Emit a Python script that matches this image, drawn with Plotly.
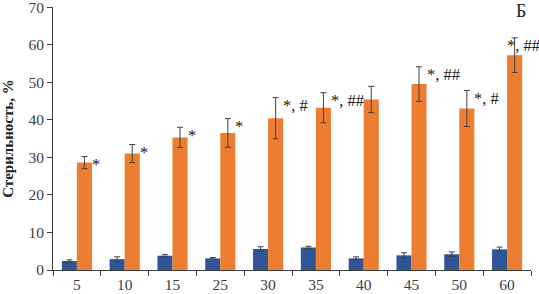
import plotly.graph_objects as go

categories = ["5", "10", "15", "25", "30", "35", "40", "45", "50", "60"]
control = [2.4, 2.9, 3.8, 3.1, 5.6, 6.0, 3.1, 3.9, 4.2, 5.5]
control_err = [0.3, 0.6, 0.3, 0.2, 0.6, 0.3, 0.4, 0.7, 0.6, 0.6]
treated = [28.6, 31.0, 35.3, 36.5, 40.4, 43.2, 45.4, 49.5, 43.0, 57.2]
treated_err = [1.6, 2.4, 2.7, 3.8, 5.5, 4.0, 3.5, 4.6, 4.8, 4.6]
labels = ["*", "*", "*", "*", "*, #", "*, ##", "", "*, ##", "*, #", "*, ##"]

BLUE = "#2F5597"
ORANGE = "#ED7D31"
FONT = "Liberation Serif"
AX = "#404040"

fig = go.Figure()
fig.add_trace(go.Bar(
    x=categories, y=control, marker_color=BLUE, marker_line_width=0,
    error_y=dict(type="data", array=control_err, color=AX, thickness=1, width=3),
))
fig.add_trace(go.Bar(
    x=categories, y=treated, marker_color=ORANGE, marker_line_width=0,
    error_y=dict(type="data", array=treated_err, color=AX, thickness=1, width=3),
))

for i, (v, e, lab) in enumerate(zip(treated, treated_err, labels)):
    if not lab:
        continue
    last = i == len(categories) - 1
    fig.add_annotation(
        x=i, y=v + e, xref="x", yref="y", text=lab, showarrow=False,
        xanchor="left", yanchor="middle",
        xshift=-2 if last else 13, yshift=-8,
        font=dict(family=FONT, size=16.5, color="#1a1a1a"),
    )

fig.add_annotation(
    x=0.98, y=0.985, xref="paper", yref="paper", text="Б", showarrow=False,
    xanchor="center", yanchor="middle", font=dict(family=FONT, size=18, color="#222"),
)

fig.update_layout(
    width=539, height=294,
    margin=dict(l=53, r=8, t=7, b=24),
    paper_bgcolor="white", plot_bgcolor="white",
    barmode="group", bargap=0.37, bargroupgap=0.0,
    showlegend=False,
    font=dict(family=FONT, size=15, color=AX),
)
fig.update_xaxes(
    type="category", range=[-0.5, 9.5], showline=True, linecolor=AX, linewidth=1,
    ticks="outside", tickson="boundaries", ticklen=5, tickcolor=AX, automargin=False,
    showgrid=False, tickfont=dict(family=FONT, size=15.5, color=AX),
)
fig.update_yaxes(
    range=[0, 70.02], tickvals=[0, 10, 20, 30, 40, 50, 60, 70], showline=True, linecolor=AX, linewidth=1,
    ticks="outside", ticklen=5, tickcolor=AX, showgrid=False, zeroline=False, automargin=False,
    ticklabeloverflow="allow",
    tickfont=dict(family=FONT, size=15.5, color=AX),
    title=dict(text="<b>Стерильность, %</b>", font=dict(family=FONT, size=15, color="#222"), standoff=12),
)

fig.write_html("out.html", config={"displayModeBar": False},
               post_script="document.body.style.margin='0px';")
